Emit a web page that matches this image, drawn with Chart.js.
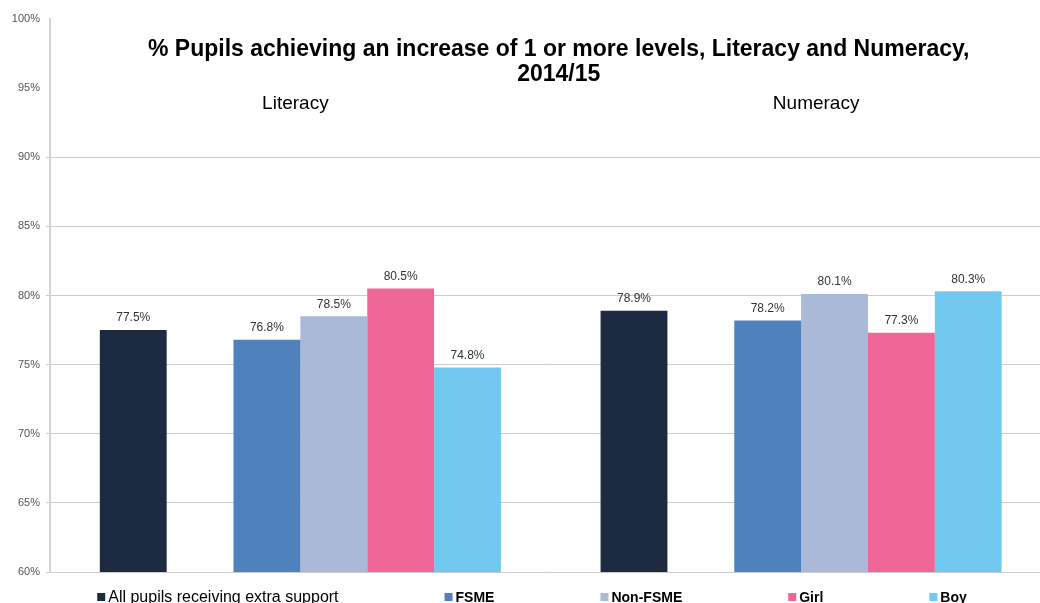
<!DOCTYPE html>
<html>
<head>
<meta charset="utf-8">
<script src="https://cdn.jsdelivr.net/npm/chart.js@4.4.1/dist/chart.umd.min.js"></script>
<style>
  html, body { margin: 0; padding: 0; background: #fff; overflow: hidden; }
  #wrap { width: 1056px; height: 603px; }
</style>
</head>
<body>
<div id="wrap"><canvas id="chart" width="1056" height="603"></canvas></div>
<script>
// data
const categories = ['Literacy', 'Numeracy'];
const seriesNames = ['All pupils receiving extra support', 'FSME', 'Non-FSME', 'Girl', 'Boy'];
const allPupils = [77.5, 78.9];
const fsme = [76.8, 78.2];
const nonFsme = [78.5, 80.1];
const girl = [80.5, 77.3];
const boy = [74.8, 80.3];
const yTicks = [60, 65, 70, 75, 80, 85, 90, 95, 100];
const titleLines = ['% Pupils achieving an increase of 1 or more levels, Literacy and Numeracy,', '2014/15'];

const colours = ['#1c2b40', '#4f81bd', '#a9b9d7', '#ef6797', '#71c9f0'];
const FONT = '"Liberation Sans", Arial, sans-serif';

const seriesValues = [allPupils, fsme, nonFsme, girl, boy];
const datasets = seriesValues.map((vals, i) => ({
  label: seriesNames[i],
  data: vals,
  backgroundColor: colours[i],
  borderWidth: 0
}));
// empty slot between "All pupils" and the breakdown bars
datasets.splice(1, 0, { label: '', data: [null, null], spacer: true, backgroundColor: 'rgba(0,0,0,0)' });

const overlay = {
  id: 'overlay',
  afterDatasetsDraw(chart) {
    const ctx = chart.ctx;
    ctx.save();
    ctx.font = '12px ' + FONT;
    ctx.fillStyle = '#333';
    ctx.textAlign = 'center';
    ctx.textBaseline = 'middle';
    chart.data.datasets.forEach((ds, i) => {
      if (ds.spacer) return;
      chart.getDatasetMeta(i).data.forEach((bar, j) => {
        ctx.fillText(ds.data[j].toFixed(1) + '%', bar.x, bar.y - 12);
      });
    });
    ctx.restore();
  },
  afterDraw(chart) {
    const { ctx, chartArea, scales } = chart;
    ctx.save();
    ctx.fillStyle = '#000';
    ctx.textAlign = 'center';
    ctx.textBaseline = 'middle';

    // title sits inside the plot area
    ctx.font = 'bold 23px ' + FONT;
    const cx = (chartArea.left + chartArea.right) / 2 + 8;
    titleLines.forEach((line, i) => ctx.fillText(line, cx, 50 + i * 25));

    // group captions at the top of each category
    const offsets = [-5, 15];
    ctx.font = '19px ' + FONT;
    categories.forEach((c, i) => {
      ctx.fillText(c, scales.x.getPixelForValue(i) + offsets[i], 104);
    });

    // legend along the bottom edge
    const box = 8, gap = 106, y = 597;
    const fontFor = i => (i > 0 ? 'bold 14px ' : '16px ') + FONT;
    const widths = seriesNames.map((n, i) => {
      ctx.font = fontFor(i);
      return box + 3 + ctx.measureText(n).width;
    });
    const total = widths.reduce((a, b) => a + b, 0) + gap * (widths.length - 1);
    let x = 532 - total / 2;
    ctx.textAlign = 'left';
    seriesNames.forEach((n, i) => {
      ctx.fillStyle = colours[i];
      ctx.fillRect(x, y - box / 2, box, box);
      ctx.fillStyle = '#000';
      ctx.font = fontFor(i);
      ctx.fillText(n, x + box + 3, y + 1);
      x += widths[i] + gap;
    });
    ctx.restore();
  }
};

new Chart(document.getElementById('chart'), {
  type: 'bar',
  data: { labels: categories, datasets: datasets },
  options: {
    responsive: false,
    animation: false,
    categoryPercentage: 0.801,
    barPercentage: 1,
    layout: { padding: { top: 19, right: 4.5, bottom: 31, left: 0 } },
    plugins: { legend: { display: false }, tooltip: { enabled: false }, title: { display: false } },
    scales: {
      x: { display: false },
      y: {
        min: 60,
        max: 100,
        afterBuildTicks: s => { s.ticks = yTicks.map(v => ({ value: v })); },
        afterFit: s => { s.width = 50; },
        border: { color: '#d4d4d4', width: 2 },
        grid: {
          color: c => (c.tick && c.tick.value > 90 ? 'rgba(0,0,0,0)' : '#cccccc'),
          tickLength: 4
        },
        ticks: {
          padding: 6,
          color: '#555',
          font: { family: FONT, size: 11 },
          callback: v => v + '%'
        }
      }
    }
  },
  plugins: [overlay]
});
</script>
</body>
</html>
